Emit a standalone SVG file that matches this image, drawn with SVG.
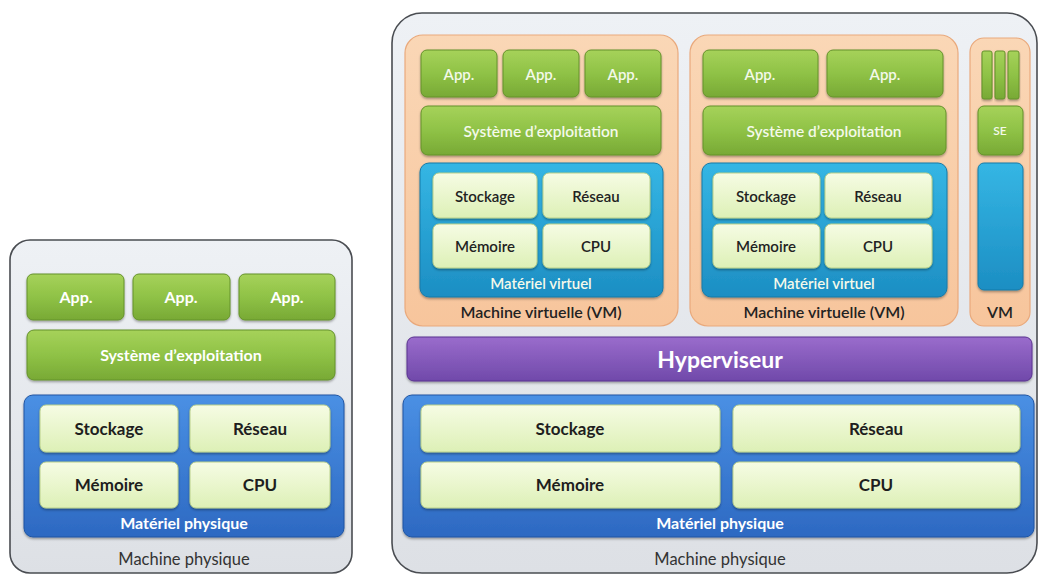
<svg xmlns="http://www.w3.org/2000/svg" width="1040" height="577" viewBox="0 0 1040 577">
  <defs>
    <linearGradient id="gMachine" x1="0" y1="0" x2="0" y2="1">
      <stop offset="0" stop-color="#eef1f5"/>
      <stop offset="1" stop-color="#dde0e5"/>
    </linearGradient>
    <linearGradient id="gGreen" x1="0" y1="0" x2="0" y2="1">
      <stop offset="0" stop-color="#a6d25a"/>
      <stop offset="0.5" stop-color="#8fc246"/>
      <stop offset="1" stop-color="#78a935"/>
    </linearGradient>
    <linearGradient id="gBlue" x1="0" y1="0" x2="0" y2="1">
      <stop offset="0" stop-color="#4a90e4"/>
      <stop offset="1" stop-color="#2d69c2"/>
    </linearGradient>
    <linearGradient id="gCyan" x1="0" y1="0" x2="0" y2="1">
      <stop offset="0" stop-color="#35b6e4"/>
      <stop offset="1" stop-color="#1c8ec3"/>
    </linearGradient>
    <linearGradient id="gCell" x1="0" y1="0" x2="0" y2="1">
      <stop offset="0" stop-color="#f6fce4"/>
      <stop offset="1" stop-color="#ddf0b6"/>
    </linearGradient>
    <linearGradient id="gPurple" x1="0" y1="0" x2="0" y2="1">
      <stop offset="0" stop-color="#9a6ccc"/>
      <stop offset="1" stop-color="#7049aa"/>
    </linearGradient>
    <linearGradient id="gOrange" x1="0" y1="0" x2="0" y2="1">
      <stop offset="0" stop-color="#fad7b6"/>
      <stop offset="1" stop-color="#f7c59c"/>
    </linearGradient>
    <filter id="shadow" x="-10%" y="-10%" width="120%" height="130%">
      <feDropShadow dx="0" dy="1.5" stdDeviation="1.2" flood-color="#000" flood-opacity="0.35"/>
    </filter>
  </defs>
  <style>
    text { font-family: Lato, "Open Sans", "Liberation Sans", sans-serif; text-anchor: middle; }
    .machine { fill: url(#gMachine); stroke: #4a4d52; stroke-width: 1.6; }
    .green { fill: url(#gGreen); stroke: #64922a; stroke-width: 1; filter: url(#shadow); }
    .blue { fill: url(#gBlue); stroke: #1f55a3; stroke-width: 1; filter: url(#shadow); }
    .cyan { fill: url(#gCyan); stroke: #177aa8; stroke-width: 1; filter: url(#shadow); }
    .cell { fill: url(#gCell); stroke: #b9d08a; stroke-width: 1; filter: url(#shadow); }
    .purple { fill: url(#gPurple); stroke: #5a3290; stroke-width: 1; filter: url(#shadow); }
    .vm { fill: url(#gOrange); stroke: #e9a97c; stroke-width: 1.2; }
    .w { fill: #ffffff; font-weight: 700; }
    .wl { fill: #f4f9ea; font-weight: 600; }
    .dk { fill: #1e1e1e; font-weight: 700; }
    .dm { fill: #222222; font-weight: 600; }
    .lbl { fill: #333333; font-weight: 400; }
  </style>

  <!-- Stand-alone physical machine -->
  <g id="physical-machine">
    <rect class="machine" x="10" y="240" width="342" height="333" rx="20"/>
    <g id="pm-apps">
      <rect class="green" x="27" y="274" width="97" height="46" rx="6"/>
      <rect class="green" x="133" y="274" width="97" height="46" rx="6"/>
      <rect class="green" x="239" y="274" width="96" height="46" rx="6"/>
      <text class="w" x="76" y="302.5" font-size="16">App.</text>
      <text class="w" x="181" y="302.5" font-size="16">App.</text>
      <text class="w" x="287" y="302.5" font-size="16">App.</text>
    </g>
    <g id="pm-os">
      <rect class="green" x="27" y="330" width="308" height="50" rx="7"/>
      <text class="w" x="181" y="361" font-size="16">Système d’exploitation</text>
    </g>
    <g id="pm-hardware">
      <rect class="blue" x="24" y="395" width="320" height="142" rx="9"/>
      <rect class="cell" x="40" y="405" width="138" height="47" rx="6"/>
      <rect class="cell" x="190" y="405" width="140" height="47" rx="6"/>
      <rect class="cell" x="40" y="462" width="138" height="46" rx="6"/>
      <rect class="cell" x="190" y="462" width="140" height="46" rx="6"/>
      <text class="dk" x="109" y="435" font-size="17">Stockage</text>
      <text class="dk" x="260" y="435" font-size="17">Réseau</text>
      <text class="dk" x="109" y="491" font-size="17">Mémoire</text>
      <text class="dk" x="260" y="491" font-size="17">CPU</text>
      <text class="w" x="184" y="528.5" font-size="16">Matériel physique</text>
    </g>
    <text class="lbl" x="184" y="565" font-size="16.5">Machine physique</text>
  </g>

  <!-- Virtualised physical machine -->
  <g id="host-machine">
    <rect class="machine" x="392" y="13" width="645" height="560" rx="30"/>
    <text class="lbl" x="720" y="565" font-size="16.5">Machine physique</text>
  </g>

  <g id="vm-1">
    <rect class="vm" x="405" y="35" width="273" height="291" rx="18"/>
    <rect class="green" x="421" y="50" width="76" height="47" rx="6"/>
    <rect class="green" x="503" y="50" width="76" height="47" rx="6"/>
    <rect class="green" x="585" y="50" width="76" height="47" rx="6"/>
    <text class="wl" x="459" y="79.5" font-size="15">App.</text>
    <text class="wl" x="541" y="79.5" font-size="15">App.</text>
    <text class="wl" x="623" y="79.5" font-size="15">App.</text>
    <rect class="green" x="421" y="106" width="240" height="49" rx="7"/>
    <text class="wl" x="541" y="136.5" font-size="15.5">Système d’exploitation</text>
    <rect class="cyan" x="420" y="163" width="243" height="134" rx="9"/>
    <rect class="cell" x="433" y="173" width="104" height="45" rx="6"/>
    <rect class="cell" x="543" y="173" width="107" height="45" rx="6"/>
    <rect class="cell" x="433" y="224" width="104" height="44" rx="6"/>
    <rect class="cell" x="543" y="224" width="107" height="44" rx="6"/>
    <text class="dm" x="485" y="201.5" font-size="15">Stockage</text>
    <text class="dm" x="596" y="201.5" font-size="15">Réseau</text>
    <text class="dm" x="485" y="251.5" font-size="15">Mémoire</text>
    <text class="dm" x="596" y="251.5" font-size="15">CPU</text>
    <text class="wl" x="541" y="288.5" font-size="15">Matériel virtuel</text>
    <text class="dm" x="541" y="317.5" font-size="16">Machine virtuelle (VM)</text>
  </g>

  <g id="vm-2">
    <rect class="vm" x="690" y="35" width="268" height="291" rx="18"/>
    <rect class="green" x="703" y="50" width="115" height="47" rx="6"/>
    <rect class="green" x="827" y="50" width="116" height="47" rx="6"/>
    <text class="wl" x="760" y="79.5" font-size="15">App.</text>
    <text class="wl" x="885" y="79.5" font-size="15">App.</text>
    <rect class="green" x="703" y="106" width="243" height="49" rx="7"/>
    <text class="wl" x="824" y="136.5" font-size="15.5">Système d’exploitation</text>
    <rect class="cyan" x="702" y="163" width="245" height="134" rx="9"/>
    <rect class="cell" x="713" y="173" width="107" height="45" rx="6"/>
    <rect class="cell" x="825" y="173" width="107" height="45" rx="6"/>
    <rect class="cell" x="713" y="224" width="107" height="44" rx="6"/>
    <rect class="cell" x="825" y="224" width="107" height="44" rx="6"/>
    <text class="dm" x="766" y="201.5" font-size="15">Stockage</text>
    <text class="dm" x="878" y="201.5" font-size="15">Réseau</text>
    <text class="dm" x="766" y="251.5" font-size="15">Mémoire</text>
    <text class="dm" x="878" y="251.5" font-size="15">CPU</text>
    <text class="wl" x="824" y="288.5" font-size="15">Matériel virtuel</text>
    <text class="dm" x="824" y="317.5" font-size="16">Machine virtuelle (VM)</text>
  </g>

  <g id="vm-3">
    <rect class="vm" x="970" y="38" width="60" height="288" rx="14"/>
    <rect class="green" x="982" y="51" width="10" height="48" rx="2"/>
    <rect class="green" x="995" y="51" width="10" height="48" rx="2"/>
    <rect class="green" x="1008" y="51" width="11" height="48" rx="2"/>
    <rect class="green" x="978" y="106" width="45" height="49" rx="6"/>
    <text class="wl" x="1000" y="135" font-size="12">SE</text>
    <rect class="cyan" x="978" y="163" width="45" height="127" rx="6"/>
    <text class="dm" x="1000" y="317.5" font-size="16">VM</text>
  </g>

  <g id="hypervisor">
    <rect class="purple" x="407" y="337" width="625" height="44" rx="7"/>
    <text class="w" x="720" y="368" font-size="23">Hyperviseur</text>
  </g>

  <g id="host-hardware">
    <rect class="blue" x="403" y="395" width="631" height="142" rx="9"/>
    <rect class="cell" x="421" y="405" width="299" height="47" rx="6"/>
    <rect class="cell" x="733" y="405" width="287" height="47" rx="6"/>
    <rect class="cell" x="421" y="462" width="299" height="46" rx="6"/>
    <rect class="cell" x="733" y="462" width="287" height="46" rx="6"/>
    <text class="dk" x="570" y="435" font-size="17">Stockage</text>
    <text class="dk" x="876" y="435" font-size="17">Réseau</text>
    <text class="dk" x="570" y="491" font-size="17">Mémoire</text>
    <text class="dk" x="876" y="491" font-size="17">CPU</text>
    <text class="w" x="720" y="528.5" font-size="16">Matériel physique</text>
  </g>
</svg>
